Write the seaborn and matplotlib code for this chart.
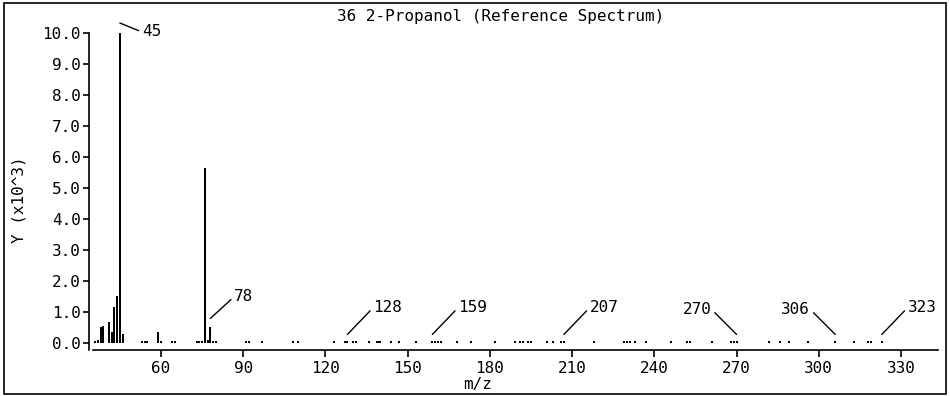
import matplotlib
matplotlib.use("Agg")
import matplotlib.pyplot as plt
from matplotlib.patches import Rectangle
from matplotlib.transforms import offset_copy
import numpy as np
import pandas as pd
import seaborn as sns

# Mass spectrum of 2-propanol: m/z values and intensities (x10^3)
mz = [36, 37, 38, 39, 41, 42, 43, 44, 45, 46,
      53, 54, 55, 59, 60, 64, 65, 73, 74, 75,
      76, 77, 78, 79, 80, 91, 92, 97, 108, 110,
      123, 127, 128, 130, 131, 136, 139, 140, 144, 147,
      153, 159, 160, 161, 162, 168, 173, 182, 189, 191,
      192, 194, 195, 201, 203, 206, 207, 218, 229, 230,
      231, 233, 237, 246, 252, 253, 261, 268, 269, 270,
      282, 286, 289, 296, 306, 313, 318, 319, 323]
intensity = [0.05, 0.10, 0.50, 0.55, 0.68, 0.35, 1.15, 1.50, 10.0, 0.30,
             0.05, 0.05, 0.05, 0.37, 0.05, 0.05, 0.05, 0.05, 0.05, 0.05,
             5.65, 0.10, 0.50, 0.05, 0.05, 0.05, 0.05, 0.05, 0.05, 0.05,
             0.05, 0.05, 0.05, 0.05, 0.05, 0.05, 0.05, 0.05, 0.05, 0.05,
             0.05, 0.05, 0.05, 0.05, 0.05, 0.05, 0.05, 0.05, 0.05, 0.05,
             0.05, 0.05, 0.05, 0.05, 0.05, 0.05, 0.05, 0.05, 0.05, 0.05,
             0.05, 0.05, 0.05, 0.05, 0.05, 0.05, 0.05, 0.05, 0.05, 0.05,
             0.05, 0.05, 0.05, 0.05, 0.05, 0.05, 0.05, 0.05, 0.05]

# Labelled peaks and which side the label sits on
label_mz = [45, 78, 128, 159, 207, 270, 306, 323]
label_side = ["top", "right", "right", "right", "right", "left", "left", "right"]

x_ticks = [60, 90, 120, 150, 180, 210, 240, 270, 300, 330]
y_ticks = [0, 1, 2, 3, 4, 5, 6, 7, 8, 9, 10]

title = "36 2-Propanol (Reference Spectrum)"
x_label = "m/z"
y_label = "Y (x10^3)"

sns.set_theme(style="white")
plt.rcParams["font.family"] = ["DejaVu Sans Mono"]
plt.rcParams["text.color"] = "black"
FS = 11.5

fig = plt.figure(figsize=(9.5, 3.96), dpi=100)
W, H = 950, 396
ax_left, ax_right, ax_top, ax_bottom = 89, 938, 33, 350
ax = fig.add_axes([ax_left / W, 1 - ax_bottom / H,
                   (ax_right - ax_left) / W, (ax_bottom - ax_top) / H])

df = pd.DataFrame({"mz": mz, "intensity": intensity})
sns.barplot(data=df, x="mz", y="intensity", native_scale=True, width=0.75,
            color="black", linewidth=0, saturation=1, ax=ax, errorbar=None)

ax.set_xlim(33.73, 343.5)
ax.set_ylim(-0.226, 10.0)
ax.set_xticks(x_ticks)
ax.set_xticklabels([str(t) for t in x_ticks], fontsize=FS)
ax.set_yticks(y_ticks)
ax.set_yticklabels([f"{t:.1f}" for t in y_ticks], fontsize=FS)
ax.set_xlabel("")
ax.set_ylabel("")

for s in ["top", "right"]:
    ax.spines[s].set_visible(False)
for s in ["left", "bottom"]:
    ax.spines[s].set_color("black")
    ax.spines[s].set_linewidth(1.2)
ax.spines["bottom"].set_bounds(35.2, 343.5)
ax.spines["left"].set_bounds(-0.226, 10.0)
ax.tick_params(axis="x", direction="out", length=5, width=1.2, color="black",
               bottom=True, pad=3, labelcolor="black")
ax.tick_params(axis="y", direction="out", length=4, width=1.2, color="black",
               left=True, pad=2, labelcolor="black")

# Peak labels with leader lines
lookup = dict(zip(mz, intensity))
for m, side in zip(label_mz, label_side):
    v = lookup[m]
    if side == "top":
        lift, off, ha, rel = 10, (22, -9), "left", (0, 0.5)
    elif side == "right":
        lift = 9 if v > 0.2 else 7
        off, ha, rel = ((24, 22) if v > 0.2 else (26, 27)), "left", (0, 0.5)
    else:
        lift, off, ha, rel = 7, (-25, 25), "right", (1, 0.5)
    tr = offset_copy(ax.transData, x=0, y=lift, units="dots")
    ax.annotate(str(m), xy=(m, v), xycoords=tr, xytext=off,
                textcoords="offset pixels", ha=ha, va="center", fontsize=FS,
                arrowprops=dict(arrowstyle="-", color="black", lw=1,
                                shrinkA=0, shrinkB=0, relpos=rel),
                annotation_clip=False)

fig.text(501 / W, 1 - 17 / H, title, ha="center", va="center", fontsize=FS)
fig.text(478 / W, 1 - 384 / H, x_label, ha="center", va="center", fontsize=FS)
fig.text(19 / W, 1 - 200 / H, y_label, ha="center", va="center",
         rotation=90, fontsize=FS)

fig.patches.append(Rectangle((4 / W, 2 / H), 942 / W, 391 / H,
                             transform=fig.transFigure, fill=False,
                             edgecolor="black", linewidth=1.2))

fig.savefig("out.png", dpi=100)
